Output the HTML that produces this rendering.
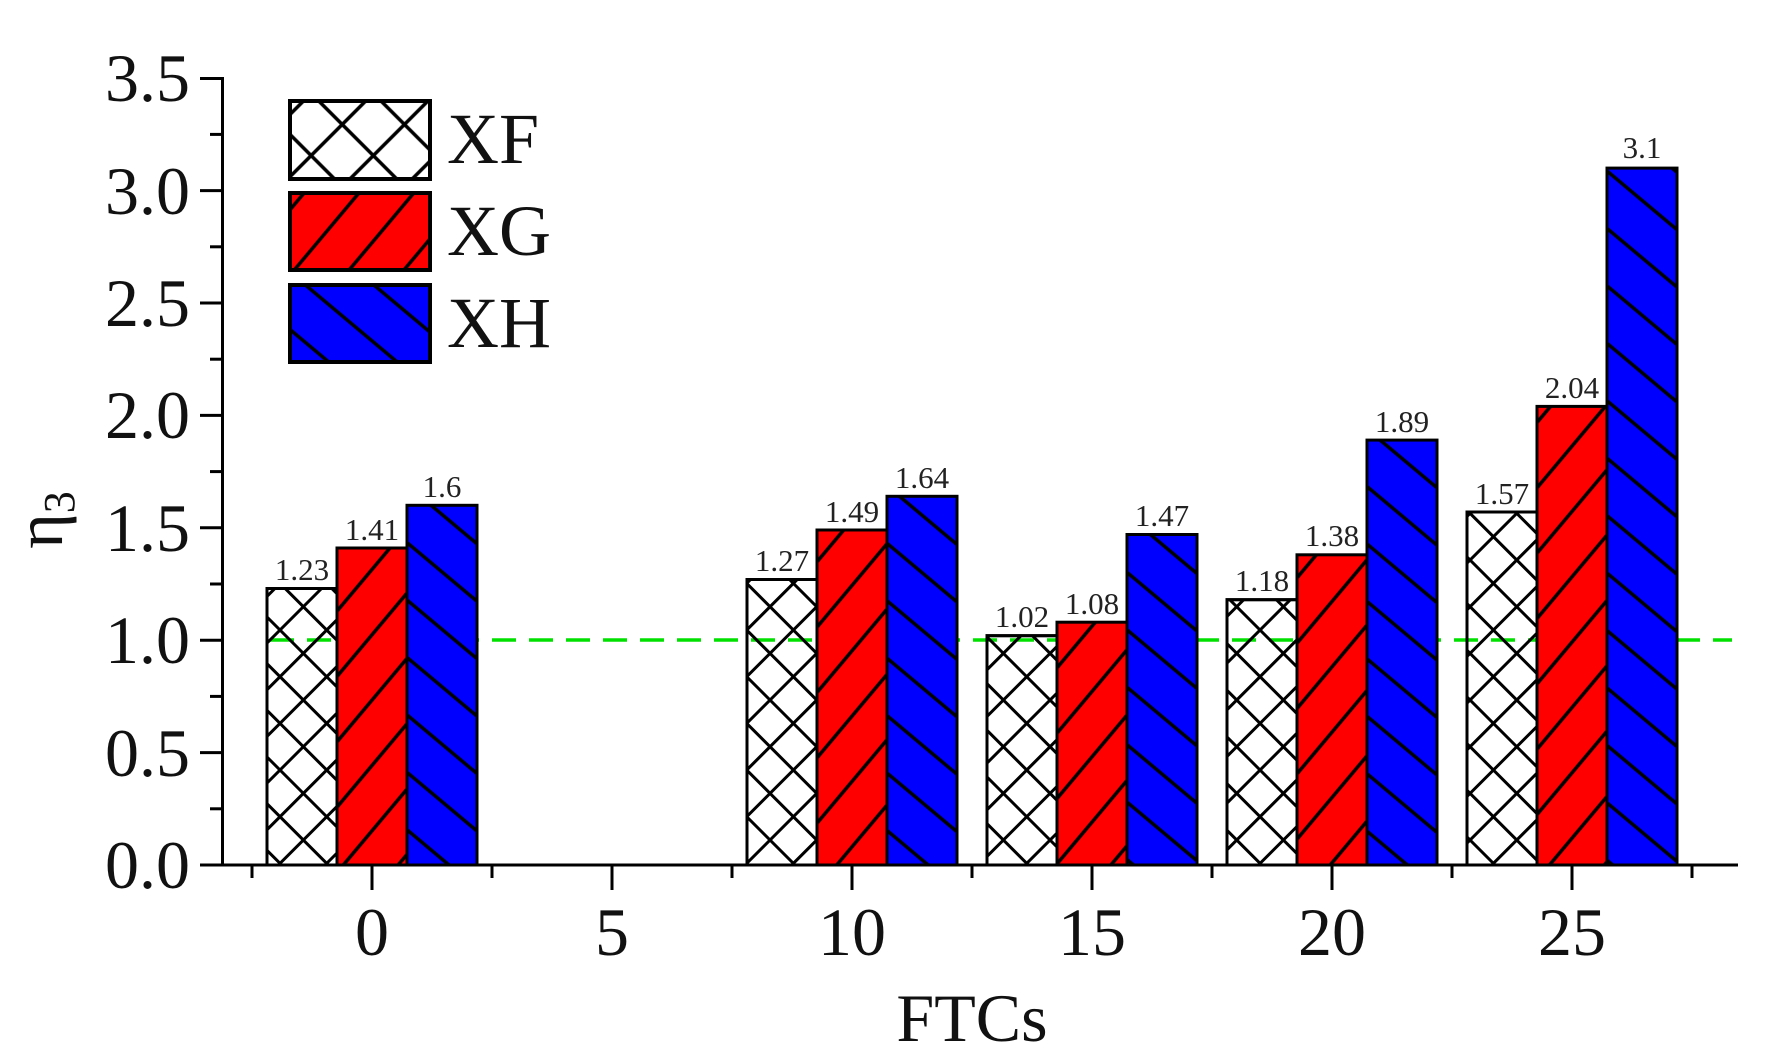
<!DOCTYPE html>
<html><head><meta charset="utf-8"><style>html,body{margin:0;padding:0;background:#fff}svg{display:block}svg text{font-family:"Liberation Serif","Times New Roman",Times,serif}</style></head>
<body>
<svg width="1772" height="1058" viewBox="0 0 1772 1058" xmlns="http://www.w3.org/2000/svg">
<defs>
<pattern id="xf" patternUnits="userSpaceOnUse" width="33" height="33" patternTransform="rotate(45)">
<line x1="0" y1="16.5" x2="33" y2="16.5" stroke="#000" stroke-width="3"/>
<line x1="16.5" y1="0" x2="16.5" y2="33" stroke="#000" stroke-width="3"/>
</pattern>
<pattern id="xg" patternUnits="userSpaceOnUse" width="42" height="42" patternTransform="rotate(-50)">
<rect width="42" height="42" fill="#ff0000"/>
<line x1="0" y1="21" x2="42" y2="21" stroke="#000" stroke-width="3.5"/>
</pattern>
<pattern id="xh" patternUnits="userSpaceOnUse" width="44" height="44" patternTransform="rotate(40)">
<rect width="44" height="44" fill="#0000ff"/>
<line x1="0" y1="22" x2="44" y2="22" stroke="#000" stroke-width="3.5"/>
</pattern>
<pattern id="xfl" patternUnits="userSpaceOnUse" width="44" height="44" patternTransform="rotate(45)">
<rect width="44" height="44" fill="#fff"/>
<line x1="0" y1="22" x2="44" y2="22" stroke="#000" stroke-width="3.5"/>
<line x1="22" y1="0" x2="22" y2="44" stroke="#000" stroke-width="3.5"/>
</pattern>
</defs>

<!-- XF bars (white + hatch), then dashed line, then others -->
<g stroke="#000" stroke-width="3">
<rect x="267" y="588.5" width="70" height="276.5" fill="#fff"/>
<rect x="747" y="579.5" width="70" height="285.5" fill="#fff"/>
<rect x="987" y="635.7" width="70" height="229.3" fill="#fff"/>
<rect x="1227" y="599.7" width="70" height="265.3" fill="#fff"/>
<rect x="1467" y="512" width="70" height="353" fill="#fff"/>
</g>
<line x1="270" y1="640" x2="1732" y2="640" stroke="#00e000" stroke-width="3.5" stroke-dasharray="24,13"/>
<g stroke="#000" stroke-width="3">
<rect x="267" y="588.5" width="70" height="276.5" fill="url(#xf)"/>
<rect x="337" y="548" width="70" height="317" fill="url(#xg)"/>
<rect x="407" y="505.3" width="70" height="359.7" fill="url(#xh)"/>
<rect x="747" y="579.5" width="70" height="285.5" fill="url(#xf)"/>
<rect x="817" y="530" width="70" height="335" fill="url(#xg)"/>
<rect x="887" y="496.3" width="70" height="368.7" fill="url(#xh)"/>
<rect x="987" y="635.7" width="70" height="229.3" fill="url(#xf)"/>
<rect x="1057" y="622.2" width="70" height="242.8" fill="url(#xg)"/>
<rect x="1127" y="534.5" width="70" height="330.5" fill="url(#xh)"/>
<rect x="1227" y="599.7" width="70" height="265.3" fill="url(#xf)"/>
<rect x="1297" y="554.8" width="70" height="310.2" fill="url(#xg)"/>
<rect x="1367" y="440.1" width="70" height="424.9" fill="url(#xh)"/>
<rect x="1467" y="512" width="70" height="353" fill="url(#xf)"/>
<rect x="1537" y="406.4" width="70" height="458.6" fill="url(#xg)"/>
<rect x="1607" y="168.1" width="70" height="696.9" fill="url(#xh)"/>
</g>

<g font-size="31" fill="#222" text-anchor="middle">
<text x="302" y="580">1.23</text>
<text x="372" y="540">1.41</text>
<text x="442" y="497">1.6</text>
<text x="782" y="571">1.27</text>
<text x="852" y="522">1.49</text>
<text x="922" y="488">1.64</text>
<text x="1022" y="627">1.02</text>
<text x="1092" y="614">1.08</text>
<text x="1162" y="526">1.47</text>
<text x="1262" y="591">1.18</text>
<text x="1332" y="546">1.38</text>
<text x="1402" y="432">1.89</text>
<text x="1502" y="504">1.57</text>
<text x="1572" y="398">2.04</text>
<text x="1642" y="158">3.1</text>
</g>

<g stroke="#000" stroke-width="3" fill="none">
<line x1="222.5" y1="77" x2="222.5" y2="866.5"/>
<line x1="221" y1="865" x2="1738" y2="865"/>
<line x1="200" y1="865" x2="222" y2="865"/>
<line x1="200" y1="752.6" x2="222" y2="752.6"/>
<line x1="200" y1="640.2" x2="222" y2="640.2"/>
<line x1="200" y1="527.8" x2="222" y2="527.8"/>
<line x1="200" y1="415.4" x2="222" y2="415.4"/>
<line x1="200" y1="303" x2="222" y2="303"/>
<line x1="200" y1="190.6" x2="222" y2="190.6"/>
<line x1="200" y1="78.5" x2="222" y2="78.5"/>
<line x1="210" y1="808.8" x2="222" y2="808.8"/>
<line x1="210" y1="696.4" x2="222" y2="696.4"/>
<line x1="210" y1="584" x2="222" y2="584"/>
<line x1="210" y1="471.6" x2="222" y2="471.6"/>
<line x1="210" y1="359.2" x2="222" y2="359.2"/>
<line x1="210" y1="246.8" x2="222" y2="246.8"/>
<line x1="210" y1="134.4" x2="222" y2="134.4"/>
<line x1="372" y1="865" x2="372" y2="890"/>
<line x1="612" y1="865" x2="612" y2="890"/>
<line x1="852" y1="865" x2="852" y2="890"/>
<line x1="1092" y1="865" x2="1092" y2="890"/>
<line x1="1332" y1="865" x2="1332" y2="890"/>
<line x1="1572" y1="865" x2="1572" y2="890"/>
<line x1="252" y1="865" x2="252" y2="878"/>
<line x1="492" y1="865" x2="492" y2="878"/>
<line x1="732" y1="865" x2="732" y2="878"/>
<line x1="972" y1="865" x2="972" y2="878"/>
<line x1="1212" y1="865" x2="1212" y2="878"/>
<line x1="1452" y1="865" x2="1452" y2="878"/>
<line x1="1692" y1="865" x2="1692" y2="878"/>
</g>

<g font-size="68" fill="#111" text-anchor="end">
<text x="190" y="888">0.0</text>
<text x="190" y="776">0.5</text>
<text x="190" y="663">1.0</text>
<text x="190" y="551">1.5</text>
<text x="190" y="438">2.0</text>
<text x="190" y="326">2.5</text>
<text x="190" y="214">3.0</text>
<text x="190" y="101">3.5</text>
</g>
<g font-size="68" fill="#111" text-anchor="middle">
<text x="372" y="955">0</text>
<text x="612" y="955">5</text>
<text x="852" y="955">10</text>
<text x="1092" y="955">15</text>
<text x="1332" y="955">20</text>
<text x="1572" y="955">25</text>
</g>
<text x="972" y="1041" font-size="68" fill="#111" text-anchor="middle">FTCs</text>
<text transform="translate(62,520) rotate(-90)" font-size="68" fill="#111" text-anchor="middle">η<tspan font-size="44" dy="12">3</tspan></text>

<g stroke="#000" stroke-width="4">
<rect x="290" y="101" width="140" height="78" fill="url(#xfl)"/>
<rect x="290" y="193" width="140" height="77" fill="url(#xg)"/>
<rect x="290" y="285" width="140" height="77" fill="url(#xh)"/>
</g>
<g font-size="72" fill="#111">
<text x="447" y="163">XF</text>
<text x="447" y="255">XG</text>
<text x="447" y="347">XH</text>
</g>
</svg>
</body></html>
